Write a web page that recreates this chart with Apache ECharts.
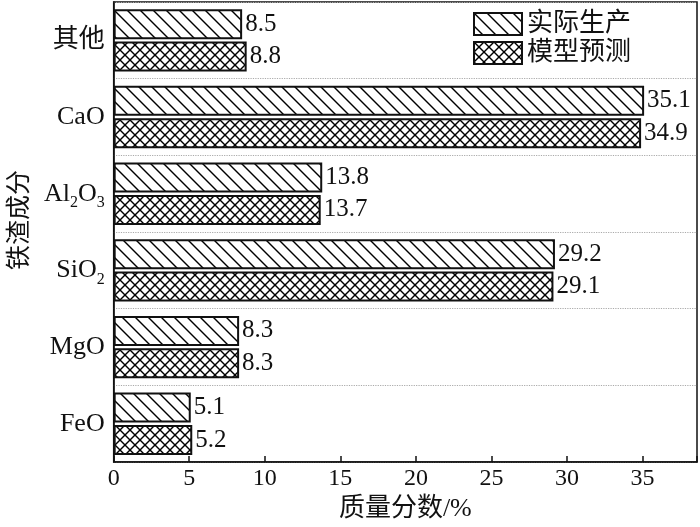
<!DOCTYPE html>
<html><head><meta charset="utf-8">
<script src="https://cdn.jsdelivr.net/npm/echarts@6/dist/echarts.min.js"></script>
<style>html,body{margin:0;padding:0;background:#fff}#c{width:700px;height:527px}</style>
</head><body><div id="c"></div>
<script>
const categories = ['FeO', 'MgO', 'SiO2', 'Al2O3', 'CaO', '其他'];
const actualValues = [5.1, 8.3, 29.2, 13.8, 35.1, 8.5];
const modelValues = [5.2, 8.3, 29.1, 13.7, 34.9, 8.8];
const seriesNames = ['实际生产', '模型预测'];
const xTicks = [0, 5, 10, 15, 20, 25, 30, 35];

const FONT = '"Liberation Serif", "Times New Roman", "Noto Sans CJK SC", serif';

function makePattern(cross) {
  const s = cross ? 10 : 13;
  const c = document.createElement('canvas');
  c.width = s; c.height = s;
  const g = c.getContext('2d');
  g.fillStyle = '#fff'; g.fillRect(0, 0, s, s);
  g.strokeStyle = '#000'; g.lineWidth = 1.4;
  const seg = (a, b, d, e) => { g.beginPath(); g.moveTo(a, b); g.lineTo(d, e); g.stroke(); };
  seg(-1, -1, s + 1, s + 1); seg(-2, s - 2, 2, s + 2); seg(s - 2, -2, s + 2, 2);
  if (cross) { seg(-1, s + 1, s + 1, -1); seg(-2, 2, 2, -2); seg(s - 2, s + 2, s + 2, s - 2); }
  return { image: c, repeat: 'repeat' };
}

const labelFmt = v => {
  if (v === 'SiO2') return 'SiO{s|2}';
  if (v === 'Al2O3') return 'Al{s|2}O{s|3}';
  return v;
};

const chart = echarts.init(document.getElementById('c'), null, { renderer: 'canvas' });
const barLabel = { show: true, position: 'right', distance: 3, color: '#111', fontFamily: FONT, fontSize: 25 };
chart.setOption({
  animation: false,
  textStyle: { fontFamily: FONT },
  grid: { left: 108, right: 3, top: 2, bottom: 62, show: true, borderColor: '#111', borderWidth: 1.5 },
  legend: {
    data: seriesNames, orient: 'vertical', left: 473, top: 11, itemWidth: 48, itemHeight: 22, itemGap: 3,
    icon: 'rect', padding: 0, textStyle: { fontSize: 26, color: '#111', fontFamily: FONT }
  },
  xAxis: {
    type: 'value', min: 0, max: 38.6, interval: 5,
    name: '质量分数/%', nameLocation: 'middle', nameGap: 32,
    nameTextStyle: { fontSize: 26, color: '#111', fontFamily: FONT },
    axisLine: { show: true, lineStyle: { color: '#111', width: 1.5 } },
    axisTick: { show: true, inside: true, length: 6, lineStyle: { color: '#111', width: 1.5 } },
    axisLabel: { fontSize: 24, color: '#111', margin: 5, fontFamily: FONT,
      formatter: v => (xTicks.includes(v) ? String(v) : '') },
    splitLine: { show: false }
  },
  yAxis: {
    type: 'category', data: categories,
    name: '铁渣成分', nameLocation: 'middle', nameGap: 80,
    nameTextStyle: { fontSize: 25, color: '#111', fontFamily: FONT, padding: [0, 0, 0, 24] },
    axisLine: { show: true, lineStyle: { color: '#111', width: 1.5 } },
    axisTick: { show: false },
    axisLabel: { fontSize: 26, color: '#111', margin: 9, fontFamily: FONT, formatter: labelFmt,
      rich: { s: { fontSize: 16, fontFamily: FONT, color: '#111', padding: [18, 0, 0, 0] } } },
    splitLine: { show: true, lineStyle: { color: '#aaa', type: 'dotted', width: 1.2 } }
  },
  series: [
    { name: seriesNames[0], type: 'bar', data: actualValues, barWidth: 30, barGap: '8%',
      itemStyle: { color: makePattern(false), borderColor: '#111', borderWidth: 2 }, label: barLabel },
    { name: seriesNames[1], type: 'bar', data: modelValues, barWidth: 30, barGap: '8%',
      itemStyle: { color: makePattern(true), borderColor: '#111', borderWidth: 2 }, label: barLabel }
  ]
});
</script></body></html>
